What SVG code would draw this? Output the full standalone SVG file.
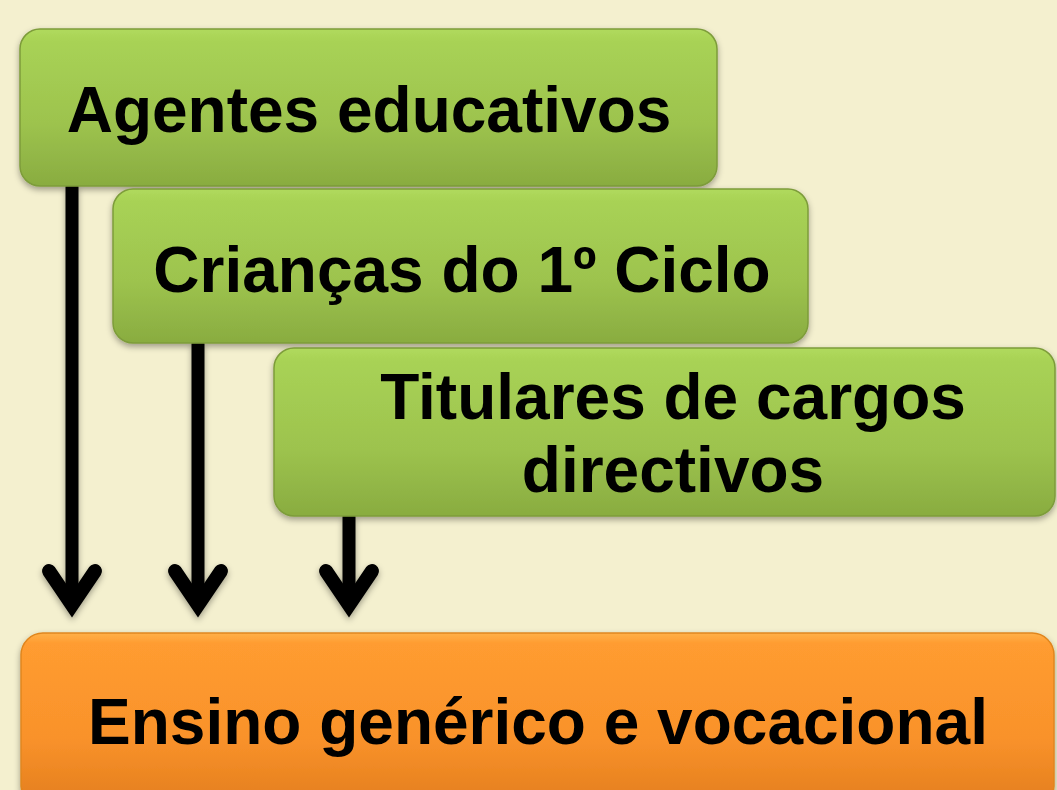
<svg xmlns="http://www.w3.org/2000/svg" width="1057" height="790" viewBox="0 0 1057 790">
  <defs>
    <linearGradient id="gGreen" x1="0" y1="0" x2="0" y2="1">
      <stop offset="0" stop-color="#b0da5d"/>
      <stop offset="0.08" stop-color="#a8d255"/>
      <stop offset="0.6" stop-color="#9dc34e"/>
      <stop offset="1" stop-color="#89ac40"/>
    </linearGradient>
    <linearGradient id="gOrange" x1="0" y1="0" x2="0" y2="1">
      <stop offset="0" stop-color="#ffb049"/>
      <stop offset="0.06" stop-color="#ff9c30"/>
      <stop offset="0.6" stop-color="#f9922b"/>
      <stop offset="1" stop-color="#e27d1c"/>
    </linearGradient>
    <filter id="shadow" x="-10%" y="-10%" width="120%" height="130%">
      <feDropShadow dx="0" dy="3" stdDeviation="3" flood-color="#000" flood-opacity="0.35"/>
    </filter>
  </defs>
  <style>
    .green { fill: url(#gGreen); stroke: #7d9c3a; stroke-width: 1.5; }
    .orange { fill: url(#gOrange); stroke: #e0861f; stroke-width: 1.5; }
    .lbl { font-family: "Liberation Sans", Arial, sans-serif; font-weight: bold; font-size: 64px; fill: #000; text-anchor: middle; }
    .arrow { fill: none; stroke: #000; stroke-width: 13; }
    .head { fill: none; stroke: #000; stroke-width: 14; stroke-linecap: round; stroke-linejoin: miter; }
  </style>
  <rect width="1057" height="790" fill="#f4f0cf"/>

  <g id="connectors" filter="url(#shadow)">
    <line class="arrow" x1="72" y1="186" x2="72" y2="605"/>
    <polyline class="head" points="49,571 72,605 95,571"/>
    <line class="arrow" x1="198" y1="343" x2="198" y2="605"/>
    <polyline class="head" points="175,571 198,605 221,571"/>
    <line class="arrow" x1="349" y1="516" x2="349" y2="605"/>
    <polyline class="head" points="326,571 349,605 372,571"/>
  </g>

  <g id="node-agentes" filter="url(#shadow)">
    <rect class="green" x="20" y="29" width="697" height="157" rx="20"/>
    <text class="lbl" x="369" y="132">Agentes educativos</text>
  </g>

  <g id="node-criancas" filter="url(#shadow)">
    <rect class="green" x="113" y="189" width="695" height="154" rx="20"/>
    <text class="lbl" x="462" y="292">Crianças do 1º Ciclo</text>
  </g>

  <g id="node-titulares" filter="url(#shadow)">
    <rect class="green" x="274" y="348" width="781" height="168" rx="20"/>
    <text class="lbl" x="673" y="419">Titulares de cargos</text>
    <text class="lbl" x="673" y="492">directivos</text>
  </g>

  <g id="node-ensino" filter="url(#shadow)">
    <rect class="orange" x="21" y="633" width="1033" height="175" rx="22"/>
    <text class="lbl" x="538" y="744">Ensino genérico e vocacional</text>
  </g>
</svg>
